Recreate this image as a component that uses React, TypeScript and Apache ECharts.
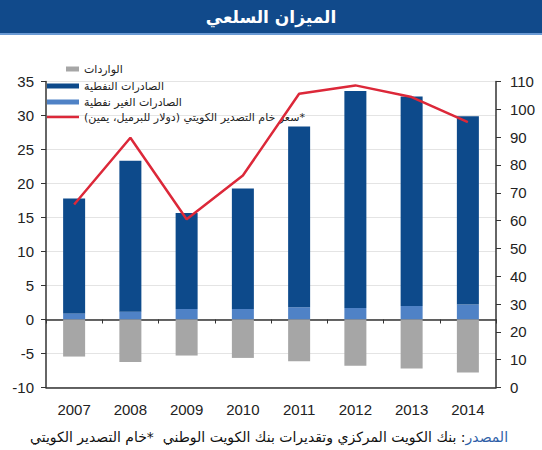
import React, { useEffect, useRef } from "react";
import * as echarts from "echarts";

const years = ["2007", "2008", "2009", "2010", "2011", "2012", "2013", "2014"];
const oilExports = [16.9, 22.2, 14.1, 17.7, 26.6, 31.9, 30.8, 27.7];
const nonOilExports = [0.9, 1.15, 1.55, 1.55, 1.8, 1.7, 2.0, 2.2];
const imports = [-5.45, -6.25, -5.3, -5.65, -6.15, -6.8, -7.2, -7.8];
const crudePrice = [65.8, 89.8, 60.5, 76.2, 105.6, 108.6, 104.4, 95.4];

const nameImports = "الواردات";
const nameOil = "الصادرات النفطية";
const nameNonOil = "الصادرات الغير نفطية";
const namePrice = "\u200F*سعر خام التصدير الكويتي (دولار للبرميل، يمين)\u200F";

const title = "الميزان السلعي";
const sourceLabel = "المصدر";
const sourceText = "بنك الكويت المركزي وتقديرات بنك الكويت الوطني  *خام التصدير الكويتي";

const AR = "DejaVu Sans, Noto Sans, sans-serif";
const NUM = "Liberation Sans, Arial, sans-serif";

export default function App() {
  const ref = useRef<HTMLDivElement>(null);
  useEffect(() => {
    if (!ref.current) return;
    const chart = echarts.init(ref.current, null, { renderer: "svg" });
    const axisColor = "#333";
    const legendText = { fontFamily: AR, fontSize: 11, color: "#222", lineHeight: 14 };
    chart.setOption({
      animation: false,
      backgroundColor: "#fff",
      textStyle: { fontFamily: NUM },
      grid: { left: 46, right: 46, top: 81.5, height: 306, containLabel: false },
      legend: [
        {
          data: [nameImports],
          orient: "vertical",
          left: 66,
          top: 62,
          padding: 0,
          itemWidth: 13,
          itemHeight: 5,
          itemGap: 2,
          icon: "rect",
          textStyle: legendText,
          selectedMode: false,
        },
        {
          data: [nameOil, nameNonOil],
          orient: "vertical",
          left: 47,
          top: 79,
          padding: 0,
          itemWidth: 32,
          itemHeight: 5,
          itemGap: 2,
          icon: "rect",
          textStyle: legendText,
          selectedMode: false,
        },
        {
          data: [namePrice],
          orient: "vertical",
          left: 47,
          top: 110,
          padding: 0,
          itemWidth: 32,
          itemHeight: 2.5,
          itemGap: 2,
          icon: "rect",
          textStyle: legendText,
          selectedMode: false,
        },
      ],
      xAxis: [
        {
          type: "category",
          data: years,
          position: "bottom",
          axisLine: { onZero: false, lineStyle: { color: axisColor, width: 1.5 } },
          axisTick: { show: false },
          axisLabel: { fontSize: 15, color: "#222", margin: 14, fontFamily: NUM },
          splitLine: { show: false },
        },
        {
          type: "category",
          data: years,
          position: "top",
          axisLine: { onZero: true, onZeroAxisIndex: 0, lineStyle: { color: axisColor, width: 1.5 } },
          axisTick: { show: true, inside: true, length: 4, lineStyle: { color: axisColor } },
          axisLabel: { show: false },
          splitLine: { show: false },
        },
      ],
      yAxis: [
        {
          type: "value",
          min: -10,
          max: 35,
          interval: 5,
          position: "left",
          axisLine: { show: true, lineStyle: { color: axisColor, width: 1.5 } },
          axisTick: { show: true, length: 5, lineStyle: { color: axisColor } },
          axisLabel: { fontSize: 15, color: "#222", margin: 12, fontFamily: NUM },
          splitLine: { show: true, lineStyle: { color: "#e4e4e4", width: 1 } },
        },
        {
          type: "value",
          min: 0,
          max: 110,
          interval: 10,
          position: "right",
          axisLine: { show: true, lineStyle: { color: axisColor, width: 1.5 } },
          axisTick: { show: true, length: 5, lineStyle: { color: axisColor } },
          axisLabel: { fontSize: 15, color: "#222", margin: 14, fontFamily: NUM },
          splitLine: { show: false },
        },
      ],
      series: [
        {
          name: nameNonOil,
          type: "bar",
          stack: "t",
          barWidth: 22,
          data: nonOilExports,
          itemStyle: { color: "#4f82c6" },
        },
        {
          name: nameOil,
          type: "bar",
          stack: "t",
          barWidth: 22,
          data: oilExports,
          itemStyle: { color: "#0d4a8b" },
        },
        {
          name: nameImports,
          type: "bar",
          stack: "t",
          barWidth: 22,
          data: imports,
          itemStyle: { color: "#a6a6a6" },
        },
        {
          name: namePrice,
          type: "line",
          yAxisIndex: 1,
          data: crudePrice,
          symbol: "none",
          z: 5,
          lineStyle: { color: "#dc2839", width: 2.5 },
          itemStyle: { color: "#dc2839" },
        },
      ],
      graphic: [
        {
          type: "rect",
          shape: { x: 0, y: 0, width: 542, height: 33 },
          style: { fill: "#114a8b" },
          silent: true,
        },
        {
          type: "rect",
          shape: { x: 0, y: 33, width: 542, height: 2 },
          style: { fill: "#6a9ad4" },
          silent: true,
        },
        {
          type: "text",
          x: 271,
          y: 17,
          style: {
            text: title,
            fill: "#fff",
            fontSize: 17,
            fontWeight: "bold",
            fontFamily: AR,
            align: "center",
            verticalAlign: "middle",
          },
          silent: true,
        },
        {
          type: "text",
          x: 269,
          y: 437,
          style: {
            text: "{b|" + sourceText + "}{c| :}{a|" + sourceLabel + "}",
            align: "center",
            verticalAlign: "middle",
            rich: {
              a: { fill: "#2f5fa8", fontSize: 14, fontFamily: AR },
              b: { fill: "#111", fontSize: 14, fontFamily: AR },
              c: { fill: "#111", fontSize: 14, fontFamily: AR },
            },
          },
          silent: true,
        },
      ],
    });
    return () => chart.dispose();
  }, []);
  return (
    <div
      ref={ref}
      style={{ position: "absolute", left: 0, top: 0, width: 542, height: 450 }}
    />
  );
}
